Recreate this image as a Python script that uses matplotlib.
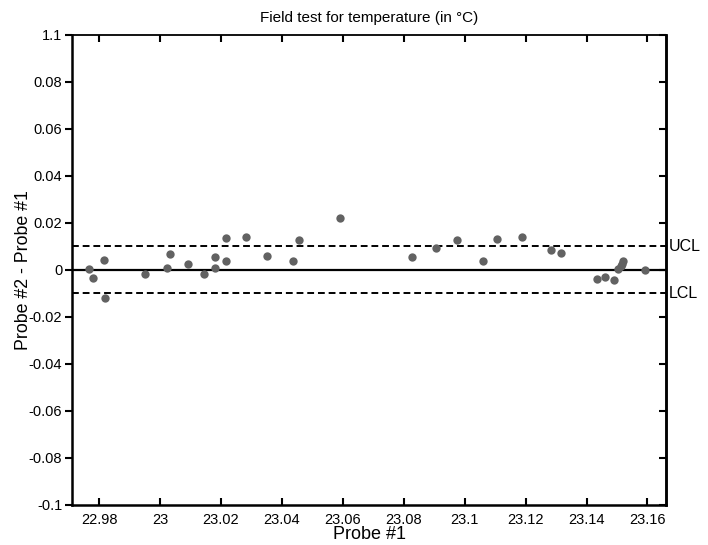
import matplotlib
matplotlib.use("Agg")
import matplotlib.pyplot as plt

plt.rcParams['font.family'] = ['Liberation Sans', 'DejaVu Sans']

# Probe #1 reading and difference Probe #2 - Probe #1
probe1 = [22.9766, 22.9779, 22.9817, 22.9820, 22.9951, 23.0022, 23.0034,
          23.0092, 23.0143, 23.0179, 23.0179, 23.0216, 23.0216, 23.0282,
          23.0351, 23.0437, 23.0456, 23.0591, 23.0826, 23.0907, 23.0975,
          23.1060, 23.1107, 23.1189, 23.1284, 23.1317, 23.1435, 23.1462,
          23.1490, 23.1503, 23.1514, 23.1518, 23.1521, 23.1591]
diff = [0.0006, -0.0033, 0.0043, -0.0118, -0.0018, 0.0007, 0.0067,
        0.0026, -0.0018, 0.0007, 0.0057, 0.0137, 0.0038, 0.0142,
        0.0060, 0.0038, 0.0126, 0.0220, 0.0057, 0.0092, 0.0129,
        0.0037, 0.0132, 0.0142, 0.0085, 0.0074, -0.0037, -0.0030,
        -0.0043, 0.0003, 0.0017, 0.0027, 0.0038, -0.0001]

ucl = 0.01
lcl = -0.01
xticks = [22.98, 23.0, 23.02, 23.04, 23.06, 23.08, 23.1, 23.12, 23.14, 23.16]
xlabels = ["22.98", "23", "23.02", "23.04", "23.06", "23.08", "23.1", "23.12", "23.14", "23.16"]
yticks = [0.1, 0.08, 0.06, 0.04, 0.02, 0, -0.02, -0.04, -0.06, -0.08, -0.1]
ylabels = ["1.1", "0.08", "0.06", "0.04", "0.02", "0", "-0.02", "-0.04", "-0.06", "-0.08", "-0.1"]

fig = plt.figure(figsize=(7.08, 5.45), dpi=100)
ax = fig.add_axes([0.1017, 0.0734, 0.839, 0.8624])

xmin, xmax = 22.9711, 23.1661
ax.axhline(0, color='black', lw=1.6)
ax.axhline(ucl, color='black', lw=1.4, ls=(0, (3.5, 2)))
ax.axhline(lcl, color='black', lw=1.4, ls=(0, (3.5, 2)))
ax.plot(probe1, diff, 'o', color='#626262', markersize=6, markeredgewidth=0)

ax.set_xlim(xmin, xmax)
ax.set_ylim(-0.1, 0.1)
ax.set_xticks(xticks)
ax.set_xticklabels(xlabels)
ax.set_yticks(yticks)
ax.set_yticklabels(ylabels)
ax.tick_params(axis='x', direction='in', top=True, length=5, width=1.5, labelsize=10.5, pad=6)
ax.tick_params(axis='y', which='both', left=True, right=False, direction='out', length=5, width=1.5, labelsize=10.5, pad=2)

# right side ticks point inward
ax2 = ax.secondary_yaxis('right')
ax2.set_yticks(yticks)
ax2.tick_params(direction='in', length=5, width=1.5, labelright=False)
ax2.spines['right'].set_linewidth(1.8)

for s in ['left', 'bottom', 'right']:
    ax.spines[s].set_linewidth(1.8)
ax.spines['top'].set_linewidth(1.3)

ax.text(1.004, ucl, "UCL", transform=ax.get_yaxis_transform(), va='center', ha='left', fontsize=11.5)
ax.text(1.004, lcl, "LCL", transform=ax.get_yaxis_transform(), va='center', ha='left', fontsize=11.5)

ax.set_title("Field test for temperature (in °C)", fontsize=11, pad=9)
ax.set_xlabel("Probe #1", fontsize=13, labelpad=-1)
ax.set_ylabel("Probe #2 - Probe #1", fontsize=12.8, labelpad=-2)

fig.savefig("out.png", dpi=100)
